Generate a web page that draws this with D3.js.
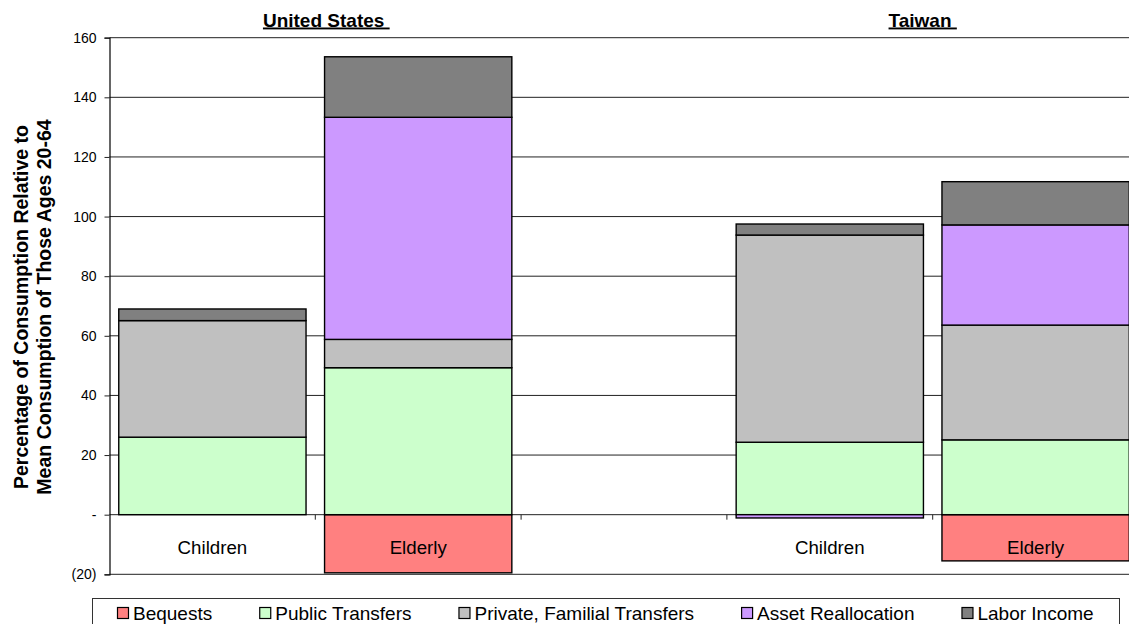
<!DOCTYPE html>
<html>
<head>
<meta charset="utf-8">
<script src="https://cdn.jsdelivr.net/npm/d3@7/dist/d3.min.js"></script>
<style>
  html, body { margin: 0; padding: 0; background: #fff; }
  svg { display: block; font-family: "Liberation Sans", Arial, sans-serif; }
</style>
</head>
<body>
<svg id="chart" width="1129" height="624"></svg>
<script>
// Slots along the category axis: two age groups per country, one empty spacer between countries
const slots = ["US Children", "US Elderly", "spacer", "TW Children", "TW Elderly"];
const barSlots = ["US Children", "US Elderly", "TW Children", "TW Elderly"];
const barLabels = ["Children", "Elderly", "Children", "Elderly"];
const countries = ["United States ", "Taiwan "];

// Sources of consumption, percent of mean consumption of ages 20-64
const seriesNames = ["Bequests", "Public Transfers", "Private, Familial Transfers", "Asset Reallocation", "Labor Income"];
const bequests          = [0,    -19.5, 0,    -15.5];
const publicTransfers   = [26.0,  49.3, 24.3,  25.1];
const privateTransfers  = [39.1,   9.5, 69.5,  38.5];
const assetReallocation = [0,     74.5, -1.1,  33.6];
const laborIncome       = [3.9,   20.3,  3.7,  14.5];
const colors = ["#FF8080", "#CCFFCC", "#C0C0C0", "#CC99FF", "#808080"];

const yTicks = [-20, 0, 20, 40, 60, 80, 100, 120, 140, 160];

const svg = d3.select("#chart");
const plotLeft = 109.5, plotRight = 1138.5, plotTop = 37.7, plotBottom = 574.3;

const y = d3.scaleLinear().domain([-20, 160]).range([plotBottom, plotTop]);
const slotScale = d3.scaleBand().domain(slots).range([plotLeft, plotRight]).padding(0);
const x = d3.scaleBand().domain(slots).range([plotLeft, plotRight])
  .paddingInner(0.09).paddingOuter(0.045);

// Gridlines
svg.append("g").selectAll("line").data(yTicks).join("line")
  .attr("x1", plotLeft).attr("x2", plotRight)
  .attr("y1", d => y(d)).attr("y2", d => y(d))
  .attr("stroke", "#222").attr("stroke-width", 1);

// Stacked bars
const rows = barSlots.map((s, i) => ({
  slot: s,
  "Bequests": bequests[i],
  "Public Transfers": publicTransfers[i],
  "Private, Familial Transfers": privateTransfers[i],
  "Asset Reallocation": assetReallocation[i],
  "Labor Income": laborIncome[i]
}));
const stack = d3.stack().keys(seriesNames).offset(d3.stackOffsetDiverging);
const layers = stack(rows);

svg.append("g").selectAll("g").data(layers).join("g")
  .attr("fill", (d, i) => colors[i])
  .selectAll("rect").data(d => d.filter(p => p[1] - p[0] !== 0)).join("rect")
  .attr("x", d => x(d.data.slot))
  .attr("width", x.bandwidth())
  .attr("y", d => y(Math.max(d[0], d[1])))
  .attr("height", d => Math.abs(y(d[0]) - y(d[1])))
  .attr("stroke", "#000").attr("stroke-width", 1.4);

// Category axis line at zero with ticks at slot boundaries
const zeroY = y(0);
const boundaries = slots.slice(1).map(s => slotScale(s));
svg.append("g").selectAll("line").data(boundaries).join("line")
  .attr("x1", d => d).attr("x2", d => d)
  .attr("y1", zeroY).attr("y2", zeroY + 5)
  .attr("stroke", "#222").attr("stroke-width", 1);

// Value axis
const yAxis = d3.axisLeft(y).tickValues(yTicks).tickSize(5).tickPadding(8)
  .tickFormat(d => d === 0 ? "-" : d < 0 ? "(" + Math.abs(d) + ")" : String(d));
const ya = svg.append("g").attr("transform", `translate(${plotLeft},0)`).call(yAxis);
ya.select(".domain").attr("stroke", "#000").attr("stroke-width", 1.2);
ya.selectAll(".tick line").attr("stroke", "#222");
ya.selectAll(".tick text").attr("font-size", 14).attr("fill", "#000")
  .attr("font-family", "'Liberation Sans', Arial, sans-serif");

// Age group labels
svg.append("g").selectAll("text").data(barSlots).join("text")
  .attr("x", d => x(d) + x.bandwidth() / 2)
  .attr("y", 554)
  .attr("text-anchor", "middle")
  .attr("font-size", 18.7)
  .attr("fill", "#000")
  .text((d, i) => barLabels[i]);

// Country titles
const titleX = [slotScale("US Elderly") + 11, slotScale("TW Elderly") - 10];
svg.append("g").selectAll("text").data(countries).join("text")
  .attr("x", (d, i) => titleX[i])
  .attr("y", 26.5)
  .attr("text-anchor", "middle")
  .attr("font-size", 19)
  .attr("font-weight", "bold")
  .style("white-space", "pre")
  .style("text-decoration", "underline")
  .text(d => d);

// Value axis title
const yTitle = svg.append("text")
  .attr("transform", "translate(28,307) rotate(-90)")
  .attr("text-anchor", "middle")
  .attr("font-size", 19.5)
  .attr("font-weight", "bold")
  .attr("fill", "#000");
yTitle.append("tspan").attr("x", 0).attr("y", 0).text("Percentage of Consumption Relative to");
yTitle.append("tspan").attr("x", 0).attr("y", 22.5).text("Mean Consumption of Those Ages 20-64");

// Legend
const legend = svg.append("g");
legend.append("rect")
  .attr("x", 92.5).attr("y", 598.5).attr("width", 1027).attr("height", 40)
  .attr("fill", "#fff").attr("stroke", "#333").attr("stroke-width", 1);
let lx = 117;
seriesNames.forEach((name, i) => {
  legend.append("rect")
    .attr("x", lx + 0.5).attr("y", 607.5).attr("width", 11).attr("height", 11)
    .attr("fill", colors[i]).attr("stroke", "#000").attr("stroke-width", 1.2);
  const t = legend.append("text")
    .attr("x", lx + 16).attr("y", 619.5)
    .attr("font-size", 19).attr("fill", "#000")
    .text(name);
  lx += 16 + t.node().getComputedTextLength() + 47;
});
</script>
</body>
</html>
